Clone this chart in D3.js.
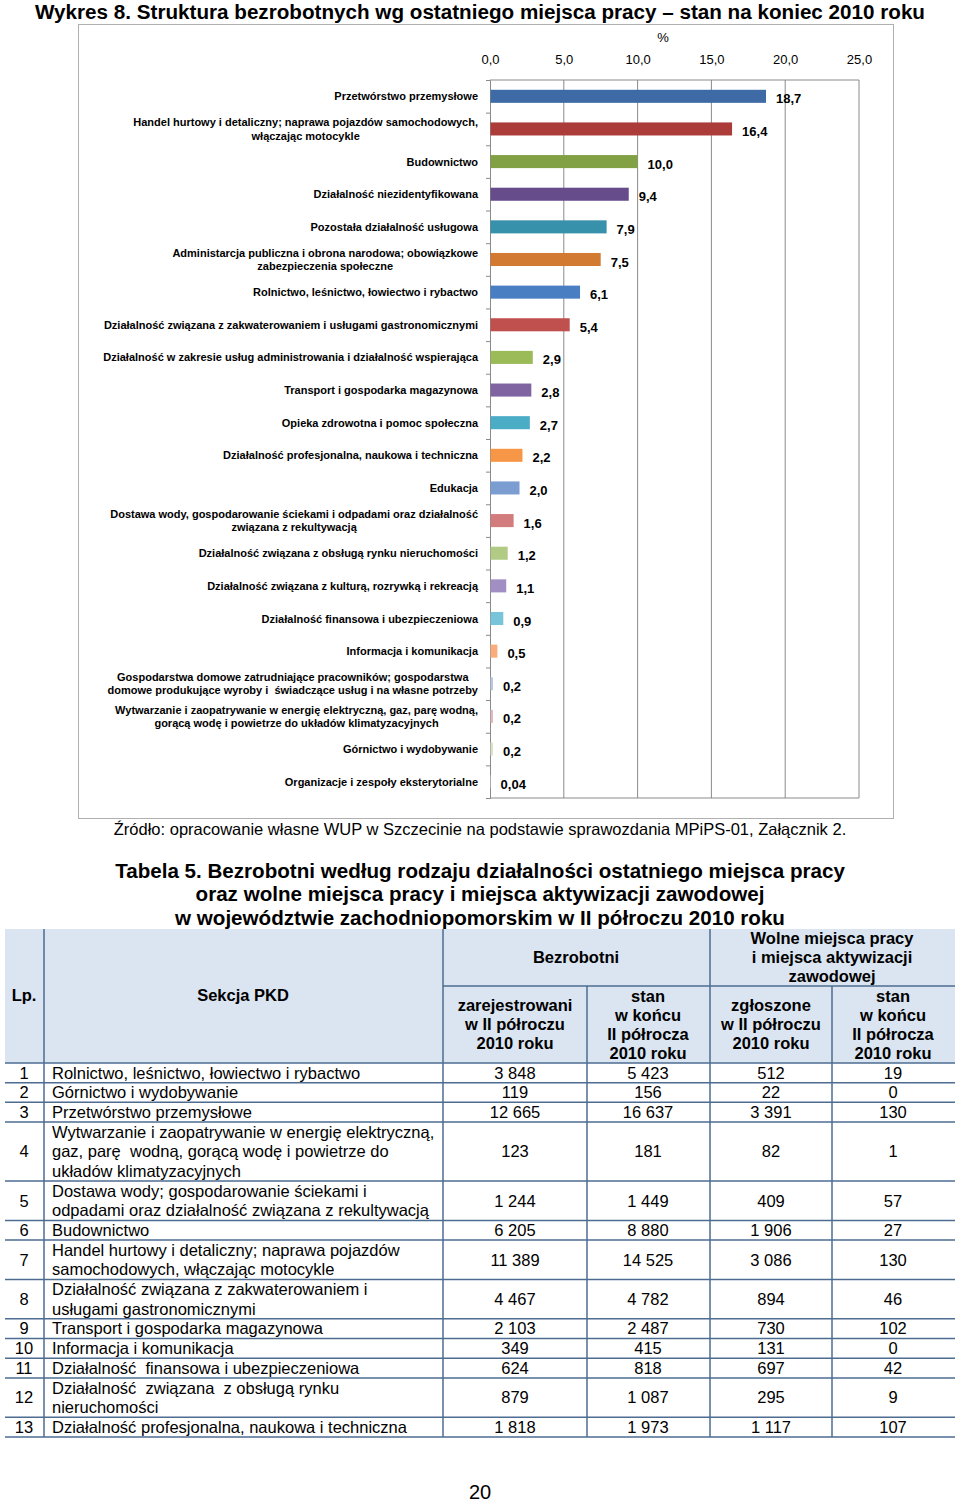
<!DOCTYPE html>
<html><head><meta charset="utf-8">
<script src="https://cdn.jsdelivr.net/npm/d3@7"></script>
<style>
body{margin:0;background:#fff;}
svg{display:block;font-family:"Liberation Sans",Arial,sans-serif;}
text{white-space:pre;}
</style></head>
<body>
<svg id="page" width="960" height="1502"></svg>
<script>
// ---------- Chart data ----------
const categories = [
  "Przetwórstwo przemysłowe",
  "Handel hurtowy i detaliczny; naprawa pojazdów samochodowych,\nwłączając motocykle",
  "Budownictwo",
  "Działalność niezidentyfikowana",
  "Pozostała działalność usługowa",
  "Administarcja publiczna i obrona narodowa; obowiązkowe\nzabezpieczenia społeczne",
  "Rolnictwo, leśnictwo, łowiectwo i rybactwo",
  "Działalność związana z zakwaterowaniem i usługami gastronomicznymi",
  "Działalność w zakresie usług administrowania i działalność wspierająca",
  "Transport i gospodarka magazynowa",
  "Opieka zdrowotna i pomoc społeczna",
  "Działalność profesjonalna, naukowa i techniczna",
  "Edukacja",
  "Dostawa wody, gospodarowanie ściekami i odpadami oraz działalność\nzwiązana z rekultywacją",
  "Działalność związana z obsługą rynku nieruchomości",
  "Działalność związana z kulturą, rozrywką i rekreacją",
  "Działalność finansowa i ubezpieczeniowa",
  "Informacja i komunikacja",
  "Gospodarstwa domowe zatrudniające pracowników; gospodarstwa\ndomowe produkujące wyroby i  świadczące usług i na własne potrzeby",
  "Wytwarzanie i zaopatrywanie w energię elektryczną, gaz, parę wodną,\ngorącą wodę i powietrze do układów klimatyzacyjnych",
  "Górnictwo i wydobywanie",
  "Organizacje i zespoły eksterytorialne"
];
const shares = [18.7,16.4,10.0,9.4,7.9,7.5,6.1,5.4,2.9,2.8,2.7,2.2,2.0,1.6,1.2,1.1,0.9,0.5,0.2,0.2,0.2,0.04];
const shareLabels = ["18,7","16,4","10,0","9,4","7,9","7,5","6,1","5,4","2,9","2,8","2,7","2,2","2,0","1,6","1,2","1,1","0,9","0,5","0,2","0,2","0,2","0,04"];
const barColors = ["#3e6aa5","#ab3c3a","#82a044","#664c8a","#3791ab","#d27a32","#4a7ec2","#c0504d","#9bbb59","#8064a2","#4bacc6","#f79646",
  "#7c9dd1","#d37c7e","#b1cb84","#a18fc4","#78c4d9","#f9ad7c","#b9c5e3","#e0b8ba","#d8e3c6","#cbc5d9"];
const xTicks = [0,5,10,15,20,25];

// ---------- Table data ----------
const lp = [1,2,3,4,5,6,7,8,9,10,11,12,13];
const sekcjaPKD = [
  "Rolnictwo, leśnictwo, łowiectwo i rybactwo",
  "Górnictwo i wydobywanie",
  "Przetwórstwo przemysłowe",
  "Wytwarzanie i zaopatrywanie w energię elektryczną,\ngaz, parę  wodną, gorącą wodę i powietrze do\nukładów klimatyzacyjnych",
  "Dostawa wody; gospodarowanie ściekami i\nodpadami oraz działalność związana z rekultywacją",
  "Budownictwo",
  "Handel hurtowy i detaliczny; naprawa pojazdów\nsamochodowych, włączając motocykle",
  "Działalność związana z zakwaterowaniem i\nusługami gastronomicznymi",
  "Transport i gospodarka magazynowa",
  "Informacja i komunikacja",
  "Działalność  finansowa i ubezpieczeniowa",
  "Działalność  związana  z obsługą rynku\nnieruchomości",
  "Działalność profesjonalna, naukowa i techniczna"
];
const bezrZarejestrowani = [3848,119,12665,123,1244,6205,11389,4467,2103,349,624,879,1818];
const bezrStan = [5423,156,16637,181,1449,8880,14525,4782,2487,415,818,1087,1973];
const wolneZgloszone = [512,22,3391,82,409,1906,3086,894,730,131,697,295,1117];
const wolneStan = [19,0,130,1,57,27,130,46,102,0,42,9,107];

const FONT = '"Liberation Sans",Arial,sans-serif';
const svg = d3.select("#page");

// ---------- Chart title ----------
svg.append("text").attr("x",480).attr("y",19).attr("text-anchor","middle")
  .attr("font-size",19.5).attr("font-weight","bold")
  .attr("textLength",890).attr("lengthAdjust","spacingAndGlyphs")
  .text("Wykres 8. Struktura bezrobotnych wg ostatniego miejsca pracy – stan na koniec 2010 roku");

// chart frame
svg.append("rect").attr("x",78.5).attr("y",24.5).attr("width",815).attr("height",794)
  .attr("fill","none").attr("stroke","#b0b0b0").attr("stroke-width",1);

const plotTop = 80, plotBottom = 798, plotLeft = 490, plotRight = 859;
const x = d3.scaleLinear().domain([0,25]).range([plotLeft,plotRight]);
const keys = categories.map((d,i)=>String(i));
const y = d3.scaleBand().domain(keys).range([plotTop,plotBottom]).paddingInner(0.6).paddingOuter(0.3);
const yIdx = d3.scaleLinear().domain([0,categories.length]).range([plotTop,plotBottom]);

// gridlines
const grid = svg.append("g");
grid.selectAll("line").data(xTicks.slice(1)).join("line")
  .attr("x1",d=>x(d)).attr("x2",d=>x(d)).attr("y1",plotTop).attr("y2",plotBottom)
  .attr("stroke","#8a8a8a").attr("stroke-width",1);
grid.append("line").attr("x1",plotLeft).attr("x2",plotRight).attr("y1",plotTop).attr("y2",plotTop).attr("stroke","#8a8a8a");
grid.append("line").attr("x1",plotLeft).attr("x2",plotRight).attr("y1",plotBottom).attr("y2",plotBottom).attr("stroke","#8a8a8a");

// top axis (labels)
const xAxis = svg.append("g").attr("transform",`translate(0,${plotTop})`)
  .call(d3.axisTop(x).tickValues(xTicks).tickSize(0).tickPadding(16)
    .tickFormat(d=>d3.format(".1f")(d).replace(".",",")));
xAxis.select(".domain").remove();
xAxis.selectAll("text").attr("font-size",13).attr("font-family",FONT).attr("fill","#000");
svg.append("text").attr("x",663).attr("y",42).attr("text-anchor","middle").attr("font-size",13).text("%");

// left axis with ticks at category boundaries
const yAxis = svg.append("g").attr("transform",`translate(${plotLeft},0)`)
  .call(d3.axisLeft(yIdx).tickValues(d3.range(categories.length+1)).tickSize(4).tickFormat(""));
yAxis.selectAll("line,path").attr("stroke","#8a8a8a");

// bars
svg.append("g").selectAll("rect").data(shares).join("rect")
  .attr("x",x(0)+0.5).attr("y",(d,i)=>y(String(i)))
  .attr("width",d=>Math.max(0.5,x(d)-x(0)-0.5)).attr("height",y.bandwidth())
  .attr("fill",(d,i)=>barColors[i]);

// value labels
svg.append("g").selectAll("text").data(shares).join("text")
  .attr("x",d=>x(d)+10).attr("y",(d,i)=>y(String(i))+y.bandwidth()/2+7)
  .attr("font-size",13).attr("font-weight","bold")
  .text((d,i)=>shareLabels[i]);

// category labels (block right-aligned, lines centered)
const labG = svg.append("g");
categories.forEach((c,i)=>{
  const lines = c.split("\n");
  const cy = y(String(i))+y.bandwidth()/2;
  const g = labG.append("g");
  const lh = 13.2;
  const ts = lines.map((ln,j)=>g.append("text").attr("x",0)
    .attr("y",cy + (j-(lines.length-1)/2)*lh + 4)
    .attr("text-anchor","middle").attr("font-size",11).attr("font-weight","bold")
    .text(ln));
  const w = d3.max(ts,t=>t.node().getComputedTextLength());
  g.attr("transform",`translate(${478 - w/2},0)`);
});

// source
svg.append("text").attr("x",480).attr("y",834.5).attr("text-anchor","middle").attr("font-size",16.5)
  .text("Źródło: opracowanie własne WUP w Szczecinie na podstawie sprawozdania MPiPS-01, Załącznik 2.");

// ---------- Table ----------
const tTitle = ["Tabela 5. Bezrobotni według rodzaju działalności ostatniego miejsca pracy",
  "oraz wolne miejsca pracy i miejsca aktywizacji zawodowej",
  "w województwie zachodniopomorskim w II półroczu 2010 roku"];
svg.append("g").selectAll("text").data(tTitle).join("text")
  .attr("x",480).attr("y",(d,i)=>877.5+i*23.5).attr("text-anchor","middle")
  .attr("font-size",20.6).attr("font-weight","bold").text(d=>d);

const colX = [5,44,443,587,710,832,955];
const headTop = 929, headMid = 986, headBottom = 1063;
const LINE = "#4d6c90";
svg.append("rect").attr("x",colX[0]).attr("y",headTop).attr("width",colX[6]-colX[0]).attr("height",headBottom-headTop)
  .attr("fill","#dbe5f1");

// header texts
function multi(g, x0, cy, lines, lh, opts){
  lines.forEach((ln,j)=>{
    g.append("text").attr("x",x0).attr("y",cy+(j-(lines.length-1)/2)*lh+5.8)
      .attr("text-anchor",opts.anchor||"middle").attr("font-size",opts.size||16.5)
      .attr("font-weight",opts.bold?"bold":"normal").text(ln);
  });
}
const hg = svg.append("g");
multi(hg,24,995,["Lp."],19,{bold:true});
multi(hg,243,995,["Sekcja PKD"],19,{bold:true});
multi(hg,576,957,["Bezrobotni"],19,{bold:true});
multi(hg,832,957,["Wolne miejsca pracy","i miejsca aktywizacji","zawodowej"],19,{bold:true});
multi(hg,515,1024,["zarejestrowani","w II półroczu","2010 roku"],19,{bold:true});
multi(hg,648,1024.5,["stan","w końcu","II półrocza","2010 roku"],19,{bold:true});
multi(hg,771,1024,["zgłoszone","w II półroczu","2010 roku"],19,{bold:true});
multi(hg,893,1024.5,["stan","w końcu","II półrocza","2010 roku"],19,{bold:true});

// body rows
const fmt = d3.formatLocale({decimal:",",thousands:" ",grouping:[3],currency:["",""]}).format(",d");
const lineH = 19.68;
const rowLines = sekcjaPKD.map(s=>s.split("\n").length);
const rowTops = [];
let acc = headBottom;
rowLines.forEach(n=>{rowTops.push(acc); acc += n*lineH;});
const tableBottom = acc;
const bg = svg.append("g");
lp.forEach((n,i)=>{
  const cy = rowTops[i] + rowLines[i]*lineH/2;
  multi(bg,24,cy,[String(n)],lineH,{});
  multi(bg,52,cy,sekcjaPKD[i].split("\n"),lineH,{anchor:"start"});
  multi(bg,515,cy,[fmt(bezrZarejestrowani[i])],lineH,{});
  multi(bg,648,cy,[fmt(bezrStan[i])],lineH,{});
  multi(bg,771,cy,[fmt(wolneZgloszone[i])],lineH,{});
  multi(bg,893,cy,[fmt(wolneStan[i])],lineH,{});
});

// grid lines
const lg = svg.append("g").attr("stroke",LINE).attr("stroke-width",1.5);
[headBottom,...rowTops.slice(1),tableBottom].forEach(yy=>{
  lg.append("line").attr("x1",colX[0]).attr("x2",colX[6]).attr("y1",yy).attr("y2",yy);
});
lg.append("line").attr("x1",colX[2]).attr("x2",colX[6]).attr("y1",headMid).attr("y2",headMid);
[colX[1],colX[2],colX[4]].forEach(xx=>lg.append("line").attr("x1",xx).attr("x2",xx).attr("y1",headTop).attr("y2",tableBottom));
[colX[3],colX[5]].forEach(xx=>lg.append("line").attr("x1",xx).attr("x2",xx).attr("y1",headMid).attr("y2",tableBottom));

// page number
svg.append("text").attr("x",480).attr("y",1499).attr("text-anchor","middle").attr("font-size",20).text("20");
</script>
</body></html>
